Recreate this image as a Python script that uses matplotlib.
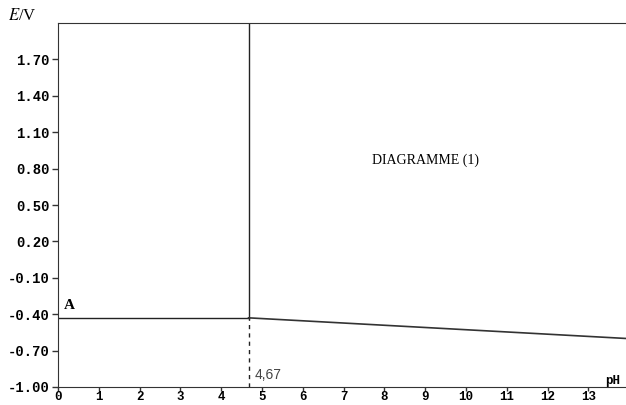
import matplotlib
matplotlib.use('Agg')
import matplotlib.pyplot as plt
import numpy as np

# Data.
phBoundary = 4.67
ePlateau = -0.43
slopeX = [4.67, 13.92]
slopeY = [-0.43, -0.60]
xTicks = list(range(0, 14))
yTicks = [1.70, 1.40, 1.10, 0.80, 0.50, 0.20, -0.10, -0.40, -0.70, -1.00]

# Serif italic for the E in E/V.
plt.rcParams['mathtext.fontset'] = 'stix'

fig = plt.figure(figsize=(6.26, 4.05), dpi=100)
ax = fig.add_axes([58 / 626, 18 / 405, 1 - 58 / 626, (387 - 23) / 405])

lineColor = '#222222'
# Horizontal plateau up to the boundary.
ax.plot([0, phBoundary], [ePlateau, ePlateau], color=lineColor, lw=1)
# Vertical boundary, solid above and dashed below.
ax.plot([phBoundary, phBoundary], [ePlateau, 2.0], color=lineColor, lw=1)
ax.plot([phBoundary, phBoundary], [-1.0, ePlateau], color=lineColor, lw=1,
        linestyle=(0, (3, 3)))
# Sloping line after the boundary.
ax.plot(slopeX, slopeY, color='#333333', lw=1.2)

ax.set_xlim(0, 13.92)
ax.set_ylim(-1.0, 2.0)
ax.set_xticks(xTicks)
ax.set_yticks(yTicks)
ax.set_yticklabels(['%.2f' % v for v in yTicks])
ax.spines['right'].set_visible(False)
for s in ['left', 'bottom', 'top']:
    ax.spines[s].set_color('#333333')
ax.tick_params(direction='out', length=4, width=1, color='#333333',
               labelsize=10, pad=2)
ax.tick_params(axis='x', length=3, pad=0, labelsize=9)
for lab in ax.get_xticklabels() + ax.get_yticklabels():
    lab.set_family('Liberation Mono')
    lab.set_fontweight('bold')

ax.text(0.15, -0.36, 'A', family='Liberation Serif', fontweight='bold',
        fontsize=11)
ax.text(4.82, -0.93, '4,67', family='Liberation Sans', fontsize=10,
        color='#444444')
ax.text(9.0, 0.87, 'DIAGRAMME (1)', family='Liberation Serif', fontsize=10,
        ha='center', va='center')
fig.text(8 / 626, 1 - 16 / 405, '$E$/V', family='Liberation Serif',
         fontsize=12, va='center')
fig.text(613 / 626, 1 - 381 / 405, 'pH', family='Liberation Mono',
         fontweight='bold', fontsize=9, va='center', ha='center')

plt.savefig('out.png', dpi=100)
